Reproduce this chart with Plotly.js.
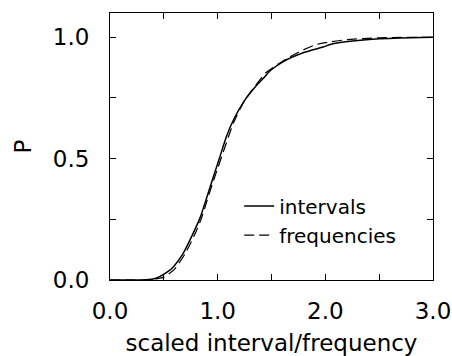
<!DOCTYPE html>
<html>
<head>
<meta charset="utf-8">
<script src="https://cdn.plot.ly/plotly-3.0.1.min.js"></script>
<style>html,body{margin:0;padding:0;background:#fff;}#chart{width:452px;height:356px;}</style>
</head>
<body>
<div id="chart"></div>
<script>
const intervalsX = [0.0, 0.30, 0.40, 0.46, 0.53, 0.59, 0.68, 0.77, 0.84, 0.90, 0.96, 1.02, 1.08, 1.145, 1.24, 1.36, 1.42, 1.49, 1.61, 1.80, 1.98, 2.07, 2.38, 2.69, 3.0];
const intervalsP = [0.0, 0.0, 0.004, 0.014, 0.032, 0.055, 0.11, 0.19, 0.26, 0.342, 0.425, 0.507, 0.589, 0.658, 0.733, 0.801, 0.829, 0.863, 0.90, 0.937, 0.96, 0.973, 0.99, 0.997, 1.0];
const freqX = [0.0, 0.35, 0.42, 0.50, 0.60, 0.70, 0.80, 0.85, 0.90, 0.95, 1.00, 1.05, 1.10, 1.15, 1.25, 1.35, 1.45, 1.60, 1.75, 1.90, 2.00, 2.20, 2.50, 3.0];
const freqP = [0.0, 0.0, 0.004, 0.012, 0.045, 0.11, 0.20, 0.255, 0.325, 0.395, 0.46, 0.525, 0.59, 0.65, 0.74, 0.80, 0.855, 0.90, 0.938, 0.968, 0.978, 0.99, 0.998, 1.0];
const xTickVals = [0, 0.5, 1, 1.5, 2, 2.5, 3];
const xTickText = ["0.0", "", "1.0", "", "2.0", "", "3.0"];
const yTickVals = [0, 0.25, 0.5, 0.75, 1.0];
const yTickText = ["0.0", "", "0.5", "", "1.0"];

const font = "DejaVu Sans, Arial, sans-serif";
const data = [
  {x: intervalsX, y: intervalsP, type: "scatter", mode: "lines", name: "intervals",
   line: {color: "#000", width: 1.5, shape: "spline", smoothing: 0.6}},
  {x: freqX, y: freqP, type: "scatter", mode: "lines", name: "frequencies",
   line: {color: "#000", width: 1.2, dash: "10px,5px", shape: "spline", smoothing: 0.6}}
];
const layout = {
  width: 452, height: 356,
  margin: {l: 110, r: 19, t: 12.5, b: 76},
  paper_bgcolor: "#fff", plot_bgcolor: "#fff",
  font: {family: font, color: "#000", size: 23},
  showlegend: true,
  legend: {x: 0.40, y: 0.35, xanchor: "left", yanchor: "top", bgcolor: "rgba(0,0,0,0)",
           font: {family: font, size: 20, color: "#000"}, tracegroupgap: 0},
  xaxis: {range: [0, 3], tickvals: xTickVals, ticktext: xTickText, ticks: "inside", ticklen: 6,
          tickcolor: "#000", showline: true, linecolor: "#000", linewidth: 1, mirror: "ticks",
          showgrid: false, zeroline: false, ticklabelstandoff: 10,
          title: {text: "scaled interval/frequency", font: {size: 23}, standoff: 12}},
  yaxis: {range: [0, 1.1], tickvals: yTickVals, ticktext: yTickText, ticks: "inside", ticklen: 6,
          tickcolor: "#000", showline: true, linecolor: "#000", linewidth: 1, mirror: "ticks",
          showgrid: false, zeroline: false, ticklabelstandoff: 15,
          title: {text: "P", font: {size: 23}, standoff: 14}}
};
Plotly.newPlot("chart", data, layout, {displayModeBar: false, staticPlot: true});
</script>
</body>
</html>
